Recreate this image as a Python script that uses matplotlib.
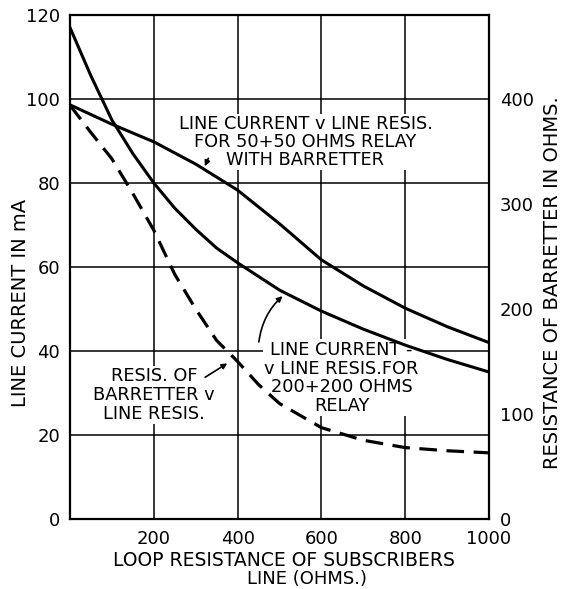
import matplotlib.pyplot as plt

# loop resistance (ohms) and line current (mA)
res_200 = [0, 50, 100, 150, 200, 250, 300, 350, 400, 500, 600, 700, 800, 900, 1000]
cur_200 = [117, 105.5, 95, 87, 80, 74, 69, 64.5, 61, 54.5, 49.5, 45.2, 41.4, 38, 35]

res_50 = [0, 100, 200, 300, 400, 500, 600, 700, 800, 900, 1000]
cur_50 = [98.6, 94, 89.8, 84.5, 78.3, 70.3, 61.7, 55.5, 50.2, 45.8, 42]

# barretter resistance (ohms), right axis
res_bar = [0, 50, 100, 150, 200, 250, 300, 350, 400, 450, 500, 600, 700, 800, 900, 1000]
bar_ohm = [394, 368, 343, 310, 275, 233, 200, 170, 150, 128, 110, 87, 75, 68, 65, 63]

x_ticks = [200, 400, 600, 800, 1000]
left_ticks = [0, 20, 40, 60, 80, 100, 120]
right_ticks = [0, 100, 200, 300, 400]

plt.rcParams['font.family'] = 'DejaVu Sans'

fig = plt.figure(figsize=(5.62, 5.89), dpi=100)
ax = fig.add_axes([70 / 562, 70 / 589, 419 / 562, 504 / 589])

ax.set_xlim(0, 1000)
ax.set_ylim(0, 120)
ax.set_xticks(x_ticks)
ax.set_yticks(left_ticks)
ax.grid(True, color='black', lw=1.1)
ax.set_axisbelow(True)
ax.tick_params(length=0, labelsize=13)
ax.tick_params(axis='x', pad=8)
ax.tick_params(axis='y', pad=7)
for s in ax.spines.values():
    s.set_linewidth(1.6)

ax.plot(res_200, cur_200, color='black', lw=2.2, zorder=4)
ax.plot(res_50, cur_50, color='black', lw=2.2, zorder=4)

ax2 = ax.twinx()
ax2.set_ylim(0, 480)
ax2.set_yticks(right_ticks)
ax2.tick_params(length=0, labelsize=13, pad=8)
ax2.plot(res_bar, bar_ohm, color='black', lw=2.3, dashes=(5.5, 3))
for s in ax2.spines.values():
    s.set_visible(False)

box = dict(facecolor='white', edgecolor='none', pad=1)

ax.text(562, 89.8, 'LINE CURRENT v LINE RESIS.\nFOR 50+50 OHMS RELAY\nWITH BARRETTER',
        ha='center', va='center', fontsize=12.8, linespacing=0.98, bbox=box, zorder=2)
ax.annotate('', xy=(319, 83.4), xytext=(333, 86.5),
            arrowprops=dict(arrowstyle='-|>', color='black', lw=1.2, mutation_scale=8), zorder=5)

ax.text(648, 33.6, 'LINE CURRENT -\nv LINE RESIS.FOR\n200+200 OHMS\nRELAY',
        ha='center', va='center', fontsize=12.8, linespacing=1.05, bbox=box, zorder=2)
ax.annotate('', xy=(512, 53.5), xytext=(450, 41.5),
            arrowprops=dict(arrowstyle='-|>', color='black', lw=1.2, mutation_scale=8,
                            connectionstyle='arc3,rad=-0.2'), zorder=5)

ax.text(200, 29.5, 'RESIS. OF\nBARRETTER v\nLINE RESIS.',
        ha='center', va='center', fontsize=12.8, linespacing=1.05, bbox=box, zorder=2)
ax.annotate('', xy=(381, 37.4), xytext=(317, 33.4),
            arrowprops=dict(arrowstyle='-|>', color='black', lw=1.2, mutation_scale=8), zorder=5)

fig.text(21 / 562, 1 - 303 / 589, 'LINE CURRENT IN mA', rotation=90,
         ha='center', va='center', fontsize=14)
fig.text(552 / 562, 1 - 283 / 589, 'RESISTANCE OF BARRETTER IN OHMS.', rotation=90,
         ha='center', va='center', fontsize=14)
fig.text(284 / 562, 1 - 560 / 589, 'LOOP RESISTANCE OF SUBSCRIBERS',
         ha='center', va='center', fontsize=13.5)
fig.text(307 / 562, 1 - 579 / 589, 'LINE (OHMS.)',
         ha='center', va='center', fontsize=13)

fig.savefig('out.png', dpi=100)
